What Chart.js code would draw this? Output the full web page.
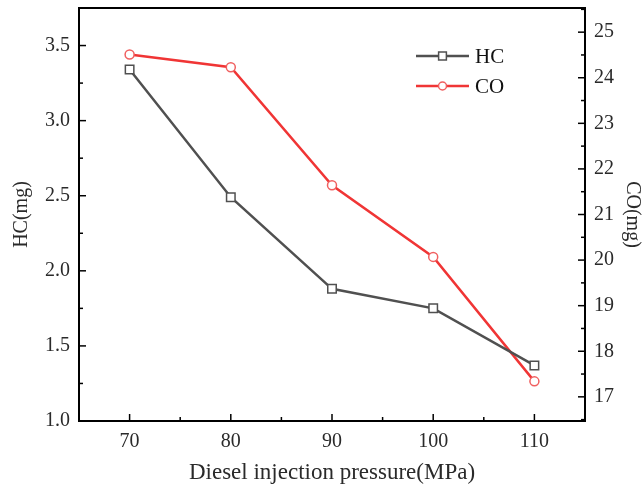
<!DOCTYPE html>
<html>
<head>
<meta charset="utf-8">
<script src="https://cdn.jsdelivr.net/npm/chart.js@4.4.1/dist/chart.umd.min.js"></script>
<style>
  html, body { margin: 0; padding: 0; background: #fff; }
  #wrap { width: 644px; height: 491px; }
</style>
</head>
<body>
<div id="wrap"><canvas id="myChart" width="644" height="491"></canvas></div>
<script>
// data
const pressure = [70, 80, 90, 100, 110]
const hcValues = [3.34, 2.49, 1.88, 1.75, 1.37]
const coValues = [24.51, 24.23, 21.64, 20.07, 17.34]
const xTicks = [70, 80, 90, 100, 110]
const hcTicks = [1.0, 1.5, 2.0, 2.5, 3.0, 3.5]
const coTicks = [17, 18, 19, 20, 21, 22, 23, 24, 25]

const serif = "'Liberation Serif', 'Times New Roman', serif"
const hcColor = '#505050'
const coColor = '#f03535'
const textColor = '#2a2a2a'

const fixedTicks = (list) => (scale) => { scale.ticks = list.map(v => ({ value: v })) }
const fitBox = (size) => (s) => {
  if (s.isHorizontal()) s.height = size; else s.width = size
  s.paddingTop = 0; s.paddingBottom = 0; s.paddingLeft = 0; s.paddingRight = 0
}

// frame, inward ticks (major + minor) and legend
const framePlugin = {
  id: 'frame',
  afterDraw(chart) {
    const ctx = chart.ctx
    const a = chart.chartArea
    const x = chart.scales.x, y = chart.scales.y, y1 = chart.scales.y1
    ctx.save()
    ctx.strokeStyle = '#000'
    ctx.lineWidth = 2
    ctx.strokeRect(a.left, a.top, a.right - a.left, a.bottom - a.top)

    ctx.lineWidth = 1.5
    const seg = (x0, y0, x1, y1_) => { ctx.beginPath(); ctx.moveTo(x0, y0); ctx.lineTo(x1, y1_); ctx.stroke() }
    for (let v = 65; v <= 115; v += 5) {
      const px = x.getPixelForValue(v)
      const len = v % 10 === 0 ? 7 : 4
      seg(px, a.bottom, px, a.bottom - len)
    }
    for (let v = 1.0; v <= 3.75; v += 0.25) {
      const py = y.getPixelForValue(v)
      const len = Math.abs(v * 2 - Math.round(v * 2)) < 0.01 ? 7 : 4
      seg(a.left, py, a.left + len, py)
    }
    for (let v = 16.5; v <= 25.5; v += 0.5) {
      const py = y1.getPixelForValue(v)
      const len = Math.abs(v - Math.round(v)) < 0.01 ? 7 : 4
      seg(a.right, py, a.right - len, py)
    }

    // legend
    const lx = 416, lw = 53
    chart.data.datasets.forEach((ds, i) => {
      const ly = 56 + i * 30
      ctx.strokeStyle = ds.borderColor
      ctx.lineWidth = ds.borderWidth
      seg(lx, ly, lx + lw, ly)
      ctx.fillStyle = '#fff'
      ctx.strokeStyle = ds.pointBorderColor
      ctx.lineWidth = ds.pointBorderWidth
      ctx.beginPath()
      const r = ds.pointRadius - 0.5
      if (ds.pointStyle === 'rect') {
        const s = Math.SQRT1_2 * r
        ctx.rect(lx + lw / 2 - s, ly - s, 2 * s, 2 * s)
      } else {
        ctx.arc(lx + lw / 2, ly, r, 0, Math.PI * 2)
      }
      ctx.fill(); ctx.stroke()
      ctx.fillStyle = '#111'
      ctx.font = '21px ' + serif
      ctx.textBaseline = 'middle'
      ctx.fillText(ds.label, lx + lw + 6, ly + 1)
    })
    ctx.restore()
  }
}

const config = {
  type: 'line',
  data: {
    datasets: [
      {
        label: 'HC',
        data: pressure.map((p, i) => ({ x: p, y: hcValues[i] })),
        yAxisID: 'y',
        borderColor: hcColor,
        borderWidth: 2.5,
        pointStyle: 'rect',
        pointRadius: 6,
        pointBorderWidth: 1.5,
        pointBorderColor: hcColor,
        pointBackgroundColor: '#fff'
      },
      {
        label: 'CO',
        data: pressure.map((p, i) => ({ x: p, y: coValues[i] })),
        yAxisID: 'y1',
        borderColor: coColor,
        borderWidth: 2.5,
        pointStyle: 'circle',
        pointRadius: 4.5,
        pointBorderWidth: 1.5,
        pointBorderColor: '#f06060',
        pointBackgroundColor: '#fff'
      }
    ]
  },
  options: {
    responsive: false,
    animation: false,
    layout: { padding: { top: 8, left: 0, right: 0, bottom: 0 } },
    plugins: { legend: { display: false }, tooltip: { enabled: false } },
    scales: {
      x: {
        type: 'linear', min: 65, max: 115,
        afterBuildTicks: fixedTicks(xTicks),
        afterFit: fitBox(70),
        grid: { display: false, drawTicks: false },
        border: { display: false },
        ticks: { color: textColor, font: { family: serif, size: 20 }, padding: 9, maxRotation: 0 },
        title: { display: true, text: 'Diesel injection pressure(MPa)', color: textColor,
          font: { family: serif, size: 23 }, padding: { top: 0, bottom: 4 } }
      },
      y: {
        position: 'left', min: 1.0, max: 3.75,
        afterBuildTicks: fixedTicks(hcTicks),
        afterFit: fitBox(79),
        grid: { display: false, drawTicks: false },
        border: { display: false },
        ticks: { color: textColor, font: { family: serif, size: 20 }, padding: 9,
          callback: (v) => Number(v).toFixed(1) },
        title: { display: true, text: 'HC(mg)', color: textColor,
          font: { family: serif, size: 20 }, padding: { top: 10, bottom: 0 } }
      },
      y1: {
        position: 'right', min: 16.47, max: 25.53,
        afterBuildTicks: fixedTicks(coTicks),
        afterFit: fitBox(59),
        grid: { display: false, drawTicks: false },
        border: { display: false },
        ticks: { color: textColor, font: { family: serif, size: 20 }, padding: 9 },
        title: { display: true, text: 'CO(mg)', color: textColor,
          font: { family: serif, size: 20 }, padding: { top: 0, bottom: 1 } }
      }
    }
  },
  plugins: [framePlugin]
}

new Chart(document.getElementById('myChart'), config)
</script>
</body>
</html>
